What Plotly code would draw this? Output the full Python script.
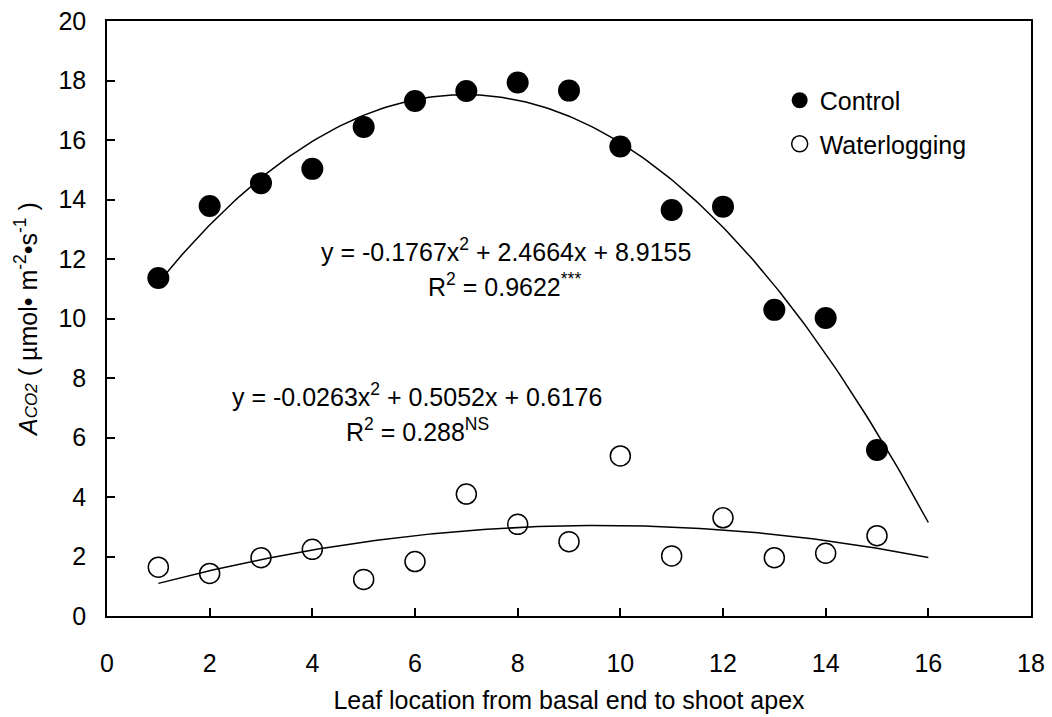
import numpy as np
import plotly.graph_objects as go

# Leaf position along the shoot (1 = basal leaf)
leaf_pos = list(range(1, 16))

# Net CO2 assimilation rate, µmol m-2 s-1
control = [11.36, 13.78, 14.55, 15.03, 16.44, 17.31, 17.65, 17.93,
           17.66, 15.78, 13.65, 13.76, 10.29, 10.02, 5.58]
waterlogging = [1.64, 1.43, 1.96, 2.24, 1.23, 1.83, 4.10, 3.08,
                2.50, 5.38, 2.02, 3.30, 1.96, 2.11, 2.70]

# Second-order polynomial fits (a*x^2 + b*x + c) and their R2 labels
control_fit = [-0.1767, 2.4664, 8.9155]
water_fit = [-0.0263, 0.5052, 0.6176]
control_r2 = "0.9622"
water_r2 = "0.288"
fit_range = [1, 16]

x_ticks = list(range(0, 19, 2))
y_ticks = list(range(0, 21, 2))

FONT = "Arial, Liberation Sans, sans-serif"
FS = 25


def poly(coefs, x):
    a, b, c = coefs
    return a * x ** 2 + b * x + c


xf = np.linspace(fit_range[0], fit_range[1], 200)

fig = go.Figure()

fig.add_trace(go.Scatter(
    x=leaf_pos, y=control, mode="markers", name="Control",
    marker=dict(symbol="circle", size=22, color="black", line=dict(width=0)),
    legendgroup="c",
))
fig.add_trace(go.Scatter(
    x=leaf_pos, y=waterlogging, mode="markers", name="Waterlogging",
    marker=dict(symbol="circle-open", size=20, color="black", line=dict(width=1.5)),
    legendgroup="w",
))
fig.add_trace(go.Scatter(
    x=xf, y=poly(control_fit, xf), mode="lines", showlegend=False,
    line=dict(color="black", width=1.5), hoverinfo="skip",
))
fig.add_trace(go.Scatter(
    x=xf, y=poly(water_fit, xf), mode="lines", showlegend=False,
    line=dict(color="black", width=1.5), hoverinfo="skip",
))


def eq_text(c):
    a, b, k = c
    return f"y = {a:.4f}x<sup>2</sup> + {b:.4f}x + {k:.4f}"


annots = [
    (eq_text(control_fit), 7.77, 12.3),
    (f"R<sup>2</sup> = {control_r2}<sup>***</sup>", 7.75, 11.13),
    (eq_text(water_fit), 6.04, 7.43),
    (f"R<sup>2</sup> = {water_r2}<sup>NS</sup>", 6.04, 6.25),
]
for txt, ax_, ay_ in annots:
    fig.add_annotation(x=ax_, y=ay_, xref="x", yref="y", text=txt,
                       showarrow=False, xanchor="center", yanchor="middle",
                       font=dict(family=FONT, size=FS, color="black"))

axis_common = dict(
    showline=True, linecolor="black", linewidth=1.5, mirror=True,
    ticks="inside", ticklen=8, tickwidth=1.5, tickcolor="black",
    showgrid=False, zeroline=False, automargin=False,
    tickfont=dict(family=FONT, size=FS, color="black"),
)

fig.update_layout(
    width=1052, height=717,
    margin=dict(l=107, r=21, t=21, b=101),
    paper_bgcolor="white", plot_bgcolor="white",
    font=dict(family=FONT, size=FS, color="black"),
    xaxis=dict(range=[0, 18], tickvals=x_ticks, ticklabelstandoff=24,
               title=dict(text="Leaf location from basal end to shoot apex",
                          font=dict(family=FONT, size=FS, color="black"),
                          standoff=16),
               **axis_common),
    yaxis=dict(range=[0, 20], tickvals=y_ticks, ticklabelstandoff=14,
               title=dict(text="<i>A</i><span style='font-size:17px'><i>CO2</i></span>"
                               " ( µmol• m<sup>-2</sup>•s<sup>-1</sup> )",
                          font=dict(family=FONT, size=FS, color="black"),
                          standoff=14),
               **axis_common),
    legend=dict(x=0.728, y=0.905, xanchor="left", yanchor="top",
                bgcolor="rgba(0,0,0,0)", borderwidth=0,
                font=dict(family=FONT, size=FS, color="black"),
                traceorder="grouped", tracegroupgap=8),
    showlegend=True,
)

fig.write_html("out.html")
